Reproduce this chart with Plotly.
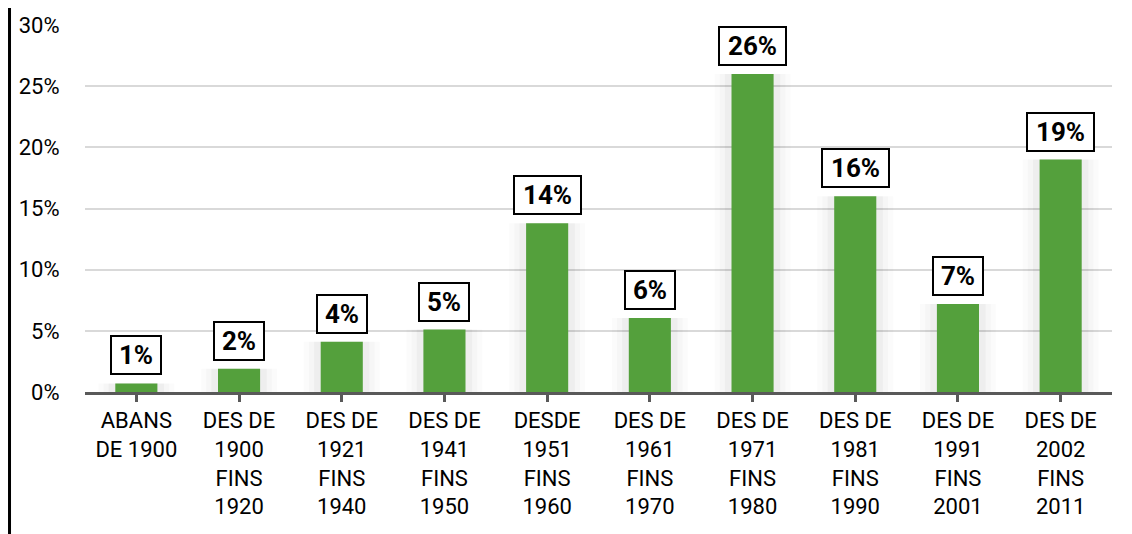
import plotly.graph_objects as go

categories = ["ABANS<br>DE 1900", "DES DE<br>1900<br>FINS<br>1920", "DES DE<br>1921<br>FINS<br>1940",
              "DES DE<br>1941<br>FINS<br>1950", "DESDE<br>1951<br>FINS<br>1960", "DES DE<br>1961<br>FINS<br>1970",
              "DES DE<br>1971<br>FINS<br>1980", "DES DE<br>1981<br>FINS<br>1990", "DES DE<br>1991<br>FINS<br>2001",
              "DES DE<br>2002<br>FINS<br>2011"]
values = [0.7, 1.9, 4.1, 5.1, 13.8, 6.05, 26.0, 16.0, 7.2, 19.0]
labels = ["1%", "2%", "4%", "5%", "14%", "6%", "26%", "16%", "7%", "19%"]
y_ticks = [0, 5, 10, 15, 20, 25, 30]
y_tick_text = ["0%", "5%", "10%", "15%", "20%", "25%", "30%"]

xs = list(range(len(categories)))
fig = go.Figure()

# soft shadow layers
for w, a in [(0.74, 0.014), (0.64, 0.02), (0.54, 0.03)]:
    fig.add_trace(go.Bar(x=xs, y=values, width=w, marker=dict(color=f"rgba(0,0,0,{a})", line=dict(width=0)),
                         hoverinfo="skip", showlegend=False))

fig.add_trace(go.Bar(x=xs, y=values, width=0.41, marker=dict(color="#54a03c", line=dict(width=0)),
                     showlegend=False))

for x, v, t in zip(xs, values, labels):
    fig.add_annotation(x=x, y=v, text=f"<b>{t}</b>", showarrow=False, yanchor="bottom", yshift=8,
                       font=dict(family="Roboto", size=26, color="black"),
                       bgcolor="white", bordercolor="black", borderwidth=2, borderpad=3,
                       width=42 if len(t) == 2 else 59, height=30)

fig.add_shape(type="line", xref="paper", yref="paper", x0=-0.0735, x1=-0.0735, y0=-0.45, y1=1.1,
              line=dict(color="black", width=3))

fig.update_layout(
    width=1132, height=534, barmode="overlay",
    margin=dict(l=77, r=28, t=17, b=150, autoexpand=False),
    plot_bgcolor="white", paper_bgcolor="white",
    font=dict(family="Roboto", size=22, color="black"),
    xaxis=dict(tickmode="array", tickvals=xs, ticktext=categories, range=[-0.5, 9.5],
               showline=True, linecolor="#595959", linewidth=3, ticks="outside", tickson="boundaries",
               ticklen=7, tickwidth=3, tickcolor="#595959", showgrid=False, zeroline=False,
               tickfont=dict(family="Roboto", size=22)),
    yaxis=dict(range=[0, 30], tickmode="array", tickvals=y_ticks, ticktext=y_tick_text, showgrid=True,
               gridcolor="#d9d9d9", gridwidth=1.5, zeroline=False, showline=False, ticks="outside",
               ticklen=20, tickcolor="rgba(0,0,0,0)", tickfont=dict(family="Roboto", size=22)),
)

fig.write_html("out.html")
